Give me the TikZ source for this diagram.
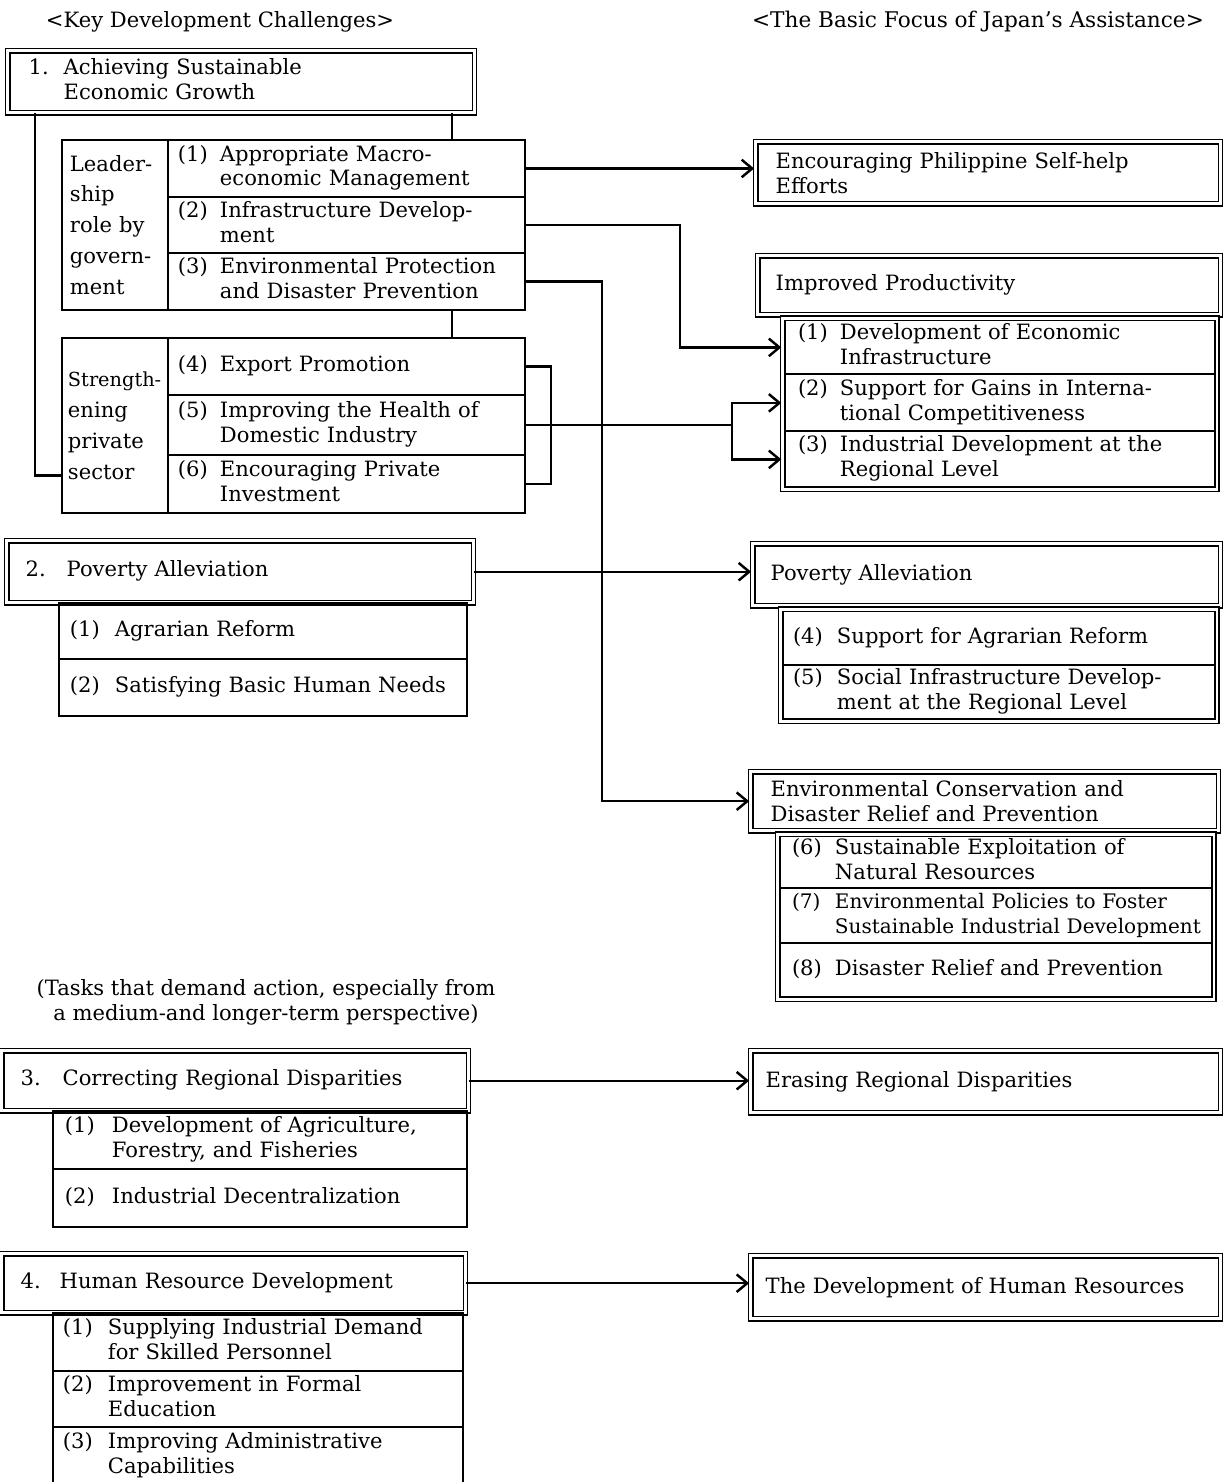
\documentclass[tikz,border=0pt]{standalone}
\usepackage{fontspec}
\setmainfont{DejaVu Serif}
\usetikzlibrary{calc, positioning, fit, arrows.meta}

\newcommand{\itm}[3][0.84cm]{\makebox[#1][l]{#2}\begin{tabular}[t]{@{}l@{}}#3\end{tabular}}

\tikzset{
  every node/.style={font=\fontsize{12}{14.2}\selectfont},
  dbox/.style={draw, double, line width=0.8pt, double distance=1.6pt, anchor=north west, align=left, inner ysep=0pt},
  cell/.style={draw, line width=1.1pt, anchor=north west, align=left, inner ysep=0pt, inner xsep=0.2cm, outer sep=0pt},
  frm/.style={draw, double, line width=0.8pt, double distance=1.6pt, inner sep=1.2pt},
  link/.style={line width=1.3pt},
  arr/.style={link, -{Straight Barb[length=6pt, width=10pt, line width=1.4pt]}, shorten >=0.5pt},
}

\begin{document}
\begin{tikzpicture}[x=0.02cm, y=-0.02cm]
    \useasboundingbox (0,0) rectangle (1227,1482);
    \clip (0,0) rectangle (1227,1482);

    \node(keyhd) at (220,22) {<Key Development Challenges>};
    \node(focushd) at (978,22) {\fontsize{12.3}{14.2}\selectfont <The Basic Focus of Japan's Assistance>};

    % left: 1.
    \node[dbox, text width=8.5cm, inner xsep=0.42cm, minimum height=1.24cm] (g1) at (7,50) {\itm[0.7cm]{1.}{Achieving Sustainable\\Economic Growth}};
    \node[cell, text width=1.8cm, inner xsep=0.16cm, minimum height=3.4cm, font=\fontsize{12}{17.6}\selectfont] (lead) at (62,140) {Leader-\\ship\\role by\\govern-\\ment};
    \node[cell, text width=6.74cm, minimum height=1.14cm] (m1) at (lead.north east) {\itm{(1)}{Appropriate Macro-\\economic Management}};
    \node[cell, text width=6.74cm, minimum height=1.12cm] (m2) at (m1.south west) {\itm{(2)}{Infrastructure Develop-\\ment}};
    \node[cell, text width=6.74cm, minimum height=1.14cm] (m3) at (m2.south west) {\itm{(3)}{Environmental Protection\\and Disaster Prevention}};
    \node[cell, text width=1.88cm, inner xsep=0.12cm, minimum height=3.5cm, font=\fontsize{12}{17.6}\selectfont] (priv) at (62,338) {{\fontsize{11}{17.6}\selectfont Strength-}\\ening\\private\\sector};
    \node[cell, text width=6.74cm, minimum height=1.14cm] (s4) at (priv.north east) {\itm{(4)}{Export Promotion}};
    \node[cell, text width=6.74cm, minimum height=1.2cm] (s5) at (s4.south west) {\itm{(5)}{Improving the Health of\\Domestic Industry}};
    \node[cell, text width=6.74cm, minimum height=1.16cm] (s6) at (s5.south west) {\itm{(6)}{Encouraging Private\\Investment}};
    \draw[link] (g1.south west) ++(28,0) |- ($(priv.west)+(0,50)$);
    \draw[link] (g1.south east) ++(-23,0) coordinate (gr) -- (gr |- m1.north);
    \draw[link] (gr |- m3.south) -- (gr |- s4.north);

    % left: 2.
    \node[dbox, text width=8.58cm, inner xsep=0.38cm, minimum height=1.24cm] (g2) at (6,540) {\itm[0.82cm]{2.}{Poverty Alleviation}};
    \node[cell, text width=7.72cm, inner xsep=0.22cm, minimum height=1.12cm] (p1) at ($(g2.south west)+(53,0)$) {\itm[0.9cm]{(1)}{Agrarian Reform}};
    \node[cell, text width=7.72cm, inner xsep=0.22cm, minimum height=1.14cm] (p2) at (p1.south west) {\itm[0.9cm]{(2)}{Satisfying Basic Human Needs}};

    \node[align=center] (tasks) at (266,1002) {(Tasks that demand action, especially from\\a medium-and longer-term perspective)};

    % left: 3.
    \node[dbox, text width=8.58cm, inner xsep=0.38cm, minimum height=1.2cm] (g3) at (1,1050) {\itm{3.}{Correcting Regional Disparities}};
    \node[cell, text width=7.8cm, inner xsep=0.24cm, minimum height=1.16cm] (c1) at ($(g3.south west)+(52,0)$) {\itm[0.94cm]{(1)}{Development of Agriculture,\\Forestry, and Fisheries}};
    \node[cell, text width=7.8cm, inner xsep=0.24cm, minimum height=1.16cm] (c2) at (c1.south west) {\itm[0.94cm]{(2)}{Industrial Decentralization}};

    % left: 4.
    \node[dbox, text width=8.52cm, inner xsep=0.38cm, minimum height=1.18cm] (g4) at (1,1253) {\itm[0.78cm]{4.}{Human Resource Development}};
    \node[cell, text width=7.8cm, minimum height=1.16cm] (h1) at ($(g4.south west)+(52,0)$) {\itm[0.9cm]{(1)}{Supplying Industrial Demand\\for Skilled Personnel}};
    \node[cell, text width=7.8cm, minimum height=1.12cm] (h2) at (h1.south west) {\itm[0.9cm]{(2)}{Improvement in Formal\\Education}};
    \node[cell, text width=7.8cm, minimum height=1.14cm] (h3) at (h2.south west) {\itm[0.9cm]{(3)}{Improving Administrative\\Capabilities}};

    % right
    \node[dbox, text width=8.5cm, inner xsep=0.4cm, minimum height=1.24cm] (f0) at (755,141) {Encouraging Philippine Self-help\\Efforts};

    \node[dbox, text width=8.54cm, inner xsep=0.36cm, minimum height=1.18cm] (ip) at (757,255) {Improved Productivity};
    \node[cell, text width=8.08cm, inner xsep=0.26cm, minimum height=1.08cm] (r1) at ($(ip.south west)+(28,5)$) {\itm{(1)}{Development of Economic\\Infrastructure}};
    \node[cell, text width=8.08cm, inner xsep=0.26cm, minimum height=1.14cm] (r2) at (r1.south west) {\itm{(2)}{Support for Gains in Interna-\\tional Competitiveness}};
    \node[cell, text width=8.08cm, inner xsep=0.26cm, minimum height=1.12cm] (r3) at (r2.south west) {\itm{(3)}{Industrial Development at the\\Regional Level}};
    \node[frm, fit=(r1)(r3)] (pf) {};

    \node[dbox, text width=8.64cm, inner xsep=0.36cm, minimum height=1.24cm] (pvh) at (752,543) {Poverty Alleviation};
    \node[cell, text width=8.24cm, minimum height=1.08cm] (r4) at ($(pvh.south west)+(31,5)$) {\itm[0.88cm]{(4)}{Support for Agrarian Reform}};
    \node[cell, text width=8.24cm, minimum height=1.08cm] (r5) at (r4.south west) {\itm[0.88cm]{(5)}{Social Infrastructure Develop-\\ment at the Regional Level}};
    \node[frm, fit=(r4)(r5)] (qf) {};

    \node[dbox, text width=8.56cm, inner xsep=0.4cm, minimum height=1.18cm] (eh) at (750,771) {Environmental Conservation and\\Disaster Relief and Prevention};
    \node[cell, text width=8.16cm, inner xsep=0.24cm, minimum height=1.04cm] (r6) at ($(eh.south west)+(30,5)$) {\itm[0.86cm]{(6)}{Sustainable Exploitation of\\Natural Resources}};
    \node[cell, text width=8.16cm, inner xsep=0.24cm, minimum height=1.1cm, font=\fontsize{11.4}{14.2}\selectfont] (r7) at (r6.south west) {\itm[0.86cm]{(7)}{Environmental Policies to Foster\\Sustainable Industrial Development}};
    \node[cell, text width=8.16cm, inner xsep=0.24cm, minimum height=1.08cm] (r8) at (r7.south west) {\itm[0.86cm]{(8)}{Disaster Relief and Prevention}};
    \node[frm, fit=(r6)(r8)] (ef) {};

    \node[dbox, text width=8.8cm, inner xsep=0.3cm, minimum height=1.24cm] (er) at (750,1050) {Erasing Regional Disparities};
    \node[dbox, text width=8.8cm, inner xsep=0.3cm, minimum height=1.26cm] (hr) at (750,1255) {The Development of Human Resources};

    % connectors
    \draw[arr] (m1.east) -- (m1.east -| f0.west);
    \draw[arr] (m2.east) -- ++(155,0) |- (pf.west |- r1.west);
    \draw[arr] (m3.east) -- ++(77,0) |- (eh.west);
    \draw[link] (s4.east) -- ++(26,0) |- (s6.east);
    \draw[link] (s5.east) -- ++(207,0) coordinate (sj);
    \draw[arr] (sj) |- (pf.west |- r2.west);
    \draw[arr] (sj) |- (pf.west |- r3.west);
    \draw[arr] (g2.east) -- (g2.east -| pvh.west);
    \draw[arr] (g3.east) -- (g3.east -| er.west);
    \draw[arr] (g4.east) -- (g4.east -| hr.west);
\end{tikzpicture}
\end{document}
